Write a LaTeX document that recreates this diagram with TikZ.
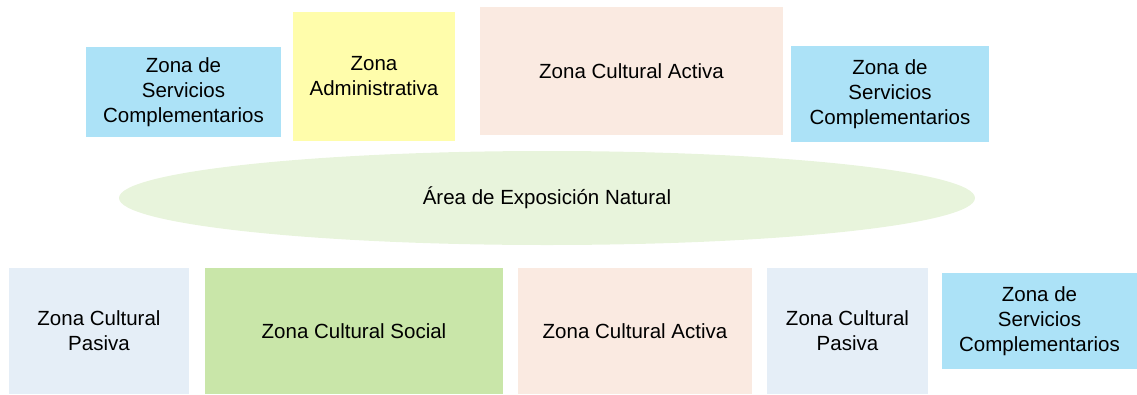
\documentclass[tikz,border=0pt]{standalone}
\usepackage{fontspec}
\setmainfont{Liberation Sans}
\usetikzlibrary{shapes.geometric}
\definecolor{cblue}{HTML}{ACE2F7}
\definecolor{cyellow}{HTML}{FFFDAB}
\definecolor{cpeach}{HTML}{FAEAE1}
\definecolor{cgray}{HTML}{E5EEF7}
\definecolor{cgreen}{HTML}{C9E6A9}
\definecolor{cell}{HTML}{E8F4DC}
\tikzset{
  zone/.style={rectangle, inner sep=0pt, align=center, text=black,
    font=\fontsize{20.5}{25}\selectfont},
}
\begin{document}
\begin{tikzpicture}[x=1pt,y=-1pt]
\useasboundingbox (0,0) rectangle (1137,394);
\node[zone, fill=cblue, minimum width=195pt, minimum height=90pt] (s1) at (183.5,92) {Zona de\\Servicios\\Complementarios};
\node[zone, fill=cyellow, minimum width=162pt, minimum height=129pt] (adm) at (374,76.5) {Zona\\Administrativa};
\node[zone, fill=cpeach, minimum width=303pt, minimum height=128pt] (act1) at (631.5,71) {Zona Cultural Activa};
\node[zone, fill=cblue, minimum width=198pt, minimum height=96pt] (s2) at (890,94) {Zona de\\Servicios\\Complementarios};
\node[zone, ellipse, fill=cell, minimum width=856pt, minimum height=94pt] (nat) at (547,198) {Área de Exposición Natural};
\node[zone, fill=cgray, minimum width=180pt, minimum height=126pt] (pas1) at (99,331) {Zona Cultural\\Pasiva};
\node[zone, fill=cgreen, minimum width=298pt, minimum height=126pt] (soc) at (354,331) {Zona Cultural Social};
\node[zone, fill=cpeach, minimum width=234pt, minimum height=126pt] (act2) at (635,331) {Zona Cultural Activa};
\node[zone, fill=cgray, minimum width=161pt, minimum height=126pt] (pas2) at (847.5,331) {Zona Cultural\\Pasiva};
\node[zone, fill=cblue, minimum width=195pt, minimum height=96pt] (s3) at (1039.5,321) {Zona de\\Servicios\\Complementarios};
\end{tikzpicture}
\end{document}
